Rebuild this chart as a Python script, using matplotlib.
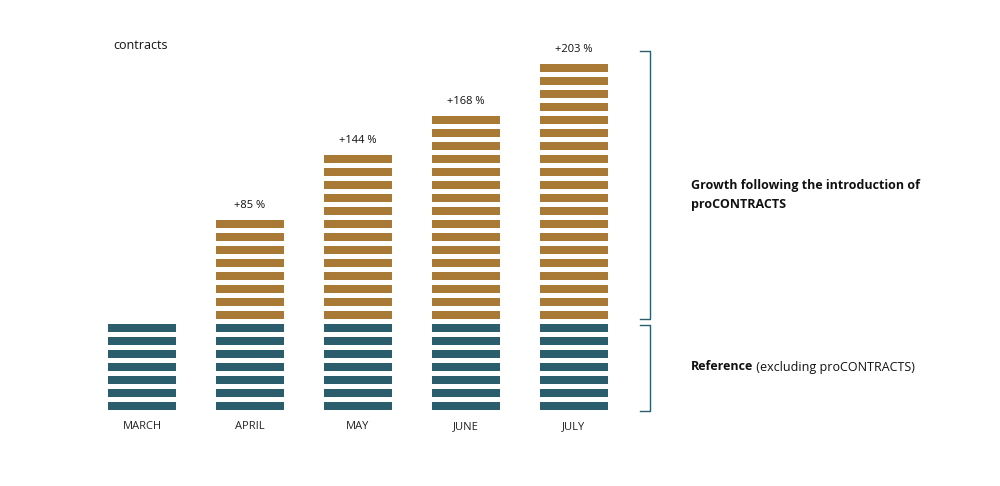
import matplotlib.pyplot as plt

months = ['MARCH', 'APRIL', 'MAY', 'JUNE', 'JULY']
base_stripes = [7, 7, 7, 7, 7]
growth_stripes = [0, 8, 13, 16, 20]
growth_labels = ['', '+85 %', '+144 %', '+168 %', '+203 %']

teal = '#2b5e6c'
gold = '#a87a35'

plt.rcParams['font.family'] = ['Open Sans', 'DejaVu Sans']

fig = plt.figure(figsize=(10, 4.86), dpi=100, facecolor='white')
ax = fig.add_axes([0, 0, 1, 1], frameon=False)
# one x unit = one month (108 px), one y unit = one stripe (13 px)
ax.set_xlim(-142 / 108, (1000 - 142) / 108)
ax.set_ylim((406 - 486) / 13, 406 / 13)
ax.set_xticks([])
ax.set_yticks([])

w = 68 / 108
h = 8 / 13
for i, m in enumerate(months):
    for k in range(base_stripes[i]):
        ax.bar(i, h, bottom=k - h / 2, width=w, color=teal)
    for k in range(growth_stripes[i]):
        kk = base_stripes[i] + k
        ax.bar(i, h, bottom=kk - h / 2, width=w, color=gold)
    ax.text(i, -1.55, m, ha='center', va='center', fontsize=8, color='#222222')
    if growth_labels[i]:
        top = base_stripes[i] + growth_stripes[i] - 1
        ax.text(i, top + 1.45, growth_labels[i], ha='center', va='center',
                fontsize=8, color='#111111')

ax.text(-0.27, 27.7, 'contracts', ha='left', va='center', fontsize=9, color='#111111')

# brackets
bx = 4.70
tick = 0.09
nb = base_stripes[-1]
ntop = nb + growth_stripes[-1]
for y0, y1 in [(nb - 0.3, ntop - 0.3 + 0.6), (-0.35, nb - 0.75)]:
    ax.plot([bx - tick, bx, bx, bx - tick], [y1, y1, y0, y0], color=teal, lw=1)

ax.text(5.08, 16.25, 'Growth following the introduction of\nproCONTRACTS',
        ha='left', va='center', fontsize=9, fontweight='bold', color='#111111',
        linespacing=1.6)
t1 = ax.text(5.08, 3.0, 'Reference', ha='left', va='center', fontsize=9,
             fontweight='bold', color='#111111')
ax.annotate(' (excluding proCONTRACTS)', xy=(1, 0.5), xycoords=t1,
            ha='left', va='center', fontsize=9, color='#111111')

fig.savefig('out.png', dpi=100, facecolor='white')
